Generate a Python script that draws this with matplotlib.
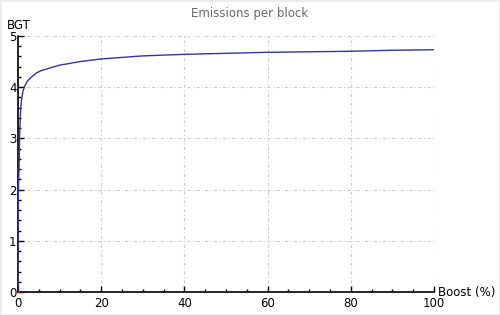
import numpy as np
import matplotlib
matplotlib.use("Agg")
import matplotlib.pyplot as plt
from matplotlib.ticker import MultipleLocator

# values
boost = [0, 0.02, 0.1, 0.2, 0.3, 0.4, 0.6, 0.8, 1.0, 1.2, 1.5, 1.8, 2.3, 3.0, 3.7, 4.5,
         5.5, 7.5, 10, 11.5, 15, 20, 30, 40, 50, 60, 70, 80, 90, 100]
emissions = [0, 1.2, 2.0, 2.3, 2.6, 3.1, 3.5, 3.72, 3.84, 3.92, 4.0, 4.05, 4.12, 4.18, 4.23, 4.28,
             4.32, 4.37, 4.43, 4.45, 4.50, 4.55, 4.61, 4.64, 4.66, 4.68, 4.69, 4.70, 4.72, 4.73]

title = "Emissions per block"
x_label = "Boost (%)"
y_label = "BGT"

fig = plt.figure(figsize=(5, 3.15), dpi=100)
fig.patch.set_facecolor("white")
fig.patch.set_edgecolor("#ececec")
fig.patch.set_linewidth(2)

ax = fig.add_axes([0.036, 0.073, 0.832, 0.813])
ax.plot(boost, emissions, color="#3333aa", lw=1.0, zorder=3)
ax.plot(boost[:1], emissions[:1], "o", color="red", ms=1.5, zorder=4)

ax.set_xlim(0, 100)
ax.set_ylim(0, 5)
ax.xaxis.set_major_locator(MultipleLocator(20))
ax.xaxis.set_minor_locator(MultipleLocator(5))
ax.yaxis.set_major_locator(MultipleLocator(1))
ax.yaxis.set_minor_locator(MultipleLocator(0.2))

ax.grid(True, which="major", color="#cccccc", lw=0.8, linestyle=(0, (3, 2, 1, 2)))
for s in ["top", "right"]:
    ax.spines[s].set_visible(False)
for s in ["left", "bottom"]:
    ax.spines[s].set_linewidth(1.2)

ax.tick_params(which="major", direction="in", length=4, width=1, labelsize=8.5)
ax.tick_params(which="minor", direction="in", length=2.5, width=1)
ax.tick_params(axis="x", pad=3.5)
ax.tick_params(axis="y", pad=1)

fig.text(0.5, 0.958, title, ha="center", va="center", fontsize=8.5, color="#666666")
fig.text(0.014, 0.918, y_label, ha="left", va="center", fontsize=8.5)
fig.text(0.876, 0.073, x_label, ha="left", va="center", fontsize=8.5)

fig.savefig("out.png", dpi=100)
